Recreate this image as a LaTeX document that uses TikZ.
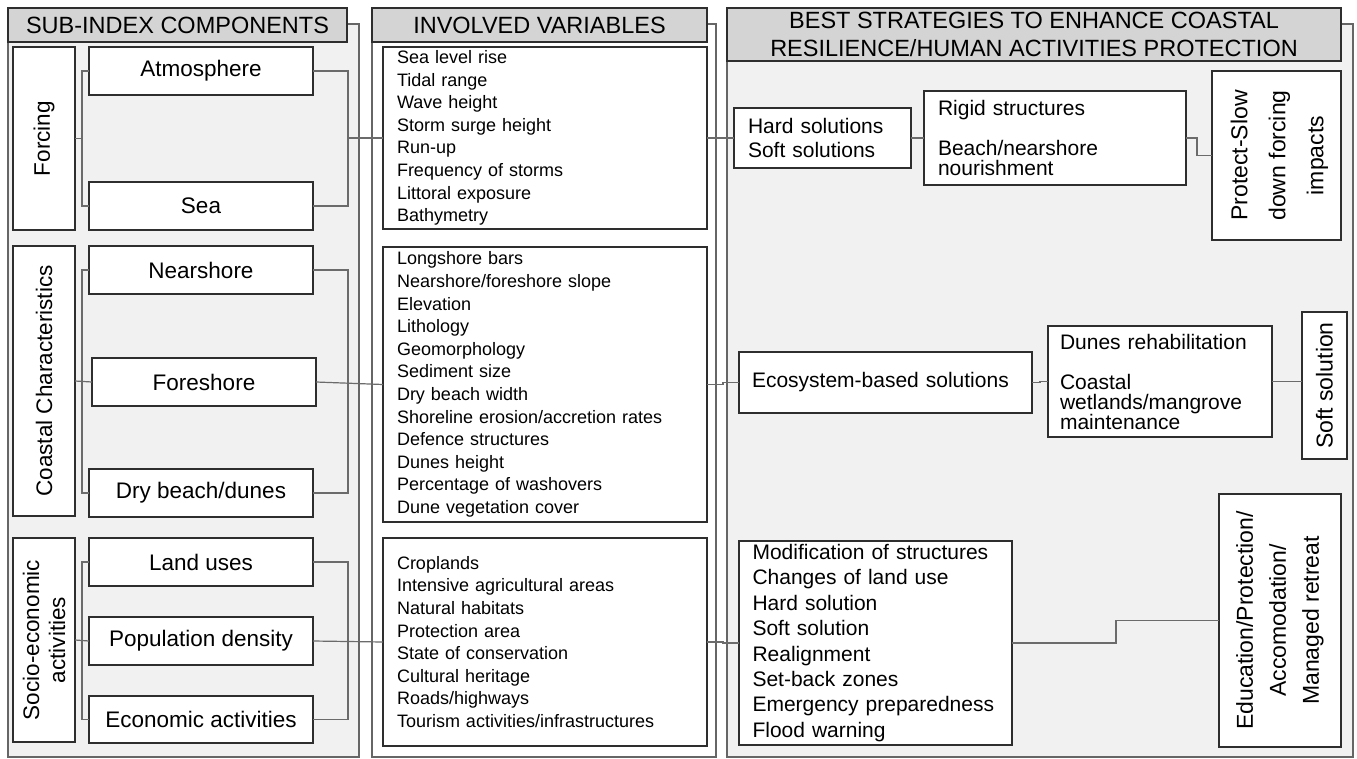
\documentclass[tikz,border=0pt]{standalone}
\usepackage{fontspec}
\setmainfont{Liberation Sans}
\definecolor{hdr}{HTML}{D4D4D4}
\definecolor{pnl}{HTML}{F1F1F1}
\definecolor{edge}{HTML}{2E2E2E}
\definecolor{cn}{HTML}{6B6B6B}
\definecolor{pedge}{HTML}{666666}
\newcommand\fHdr{\fontsize{23.5}{28}\selectfont}
\newcommand\fLeft{\fontsize{22.5}{26}\selectfont}
\newcommand\fVar{\fontsize{18}{22.6}\selectfont}
\newcommand\fStr{\fontsize{21}{24.5}\selectfont}
\newcommand\fTight{\fontsize{21}{20}\selectfont}
\newcommand\fMod{\fontsize{21}{25.4}\selectfont}
\newcommand\fRot{\fontsize{23}{33}\selectfont}
\newcommand\fRotW{\fontsize{23}{38}\selectfont}
\newcommand\bx[7]{\node[bbox,#7,anchor=north west,minimum width={(#4)-(#2)},minimum height={(#5)-(#3)}] (#1) at (#2,#3) {#6};}
\tikzset{
  bbox/.style={draw=edge, fill=white, line width=1.2pt, inner sep=0pt, outer sep=0pt},
  panelbox/.style={draw=pedge, line width=1.1pt},
  hdrbox/.style={draw=edge, fill=hdr, line width=1.3pt, align=center, font=\fHdr},
  conn/.style={draw=cn, line width=1.2pt},
  vlist/.style={font=\fVar, align=left, text width=296pt, inner xsep=14pt},
  slist/.style={align=left, inner xsep=14pt},
  rot/.style={rotate=90, align=center, font=\fRot, inner sep=0pt},
}
\begin{document}
\begin{tikzpicture}[x=1pt,y=-1pt]
\useasboundingbox (0,0) rectangle (1357,758);
% panels
\bx{p1}{8}{24}{359}{757}{}{panelbox,fill=pnl}
\bx{p2}{372}{24}{716}{757}{}{panelbox,fill=white}
\bx{p3}{727}{24}{1353}{757}{}{panelbox,fill=pnl}
% headers
\bx{h1}{8}{8}{347}{42}{SUB-INDEX COMPONENTS}{hdrbox}
\bx{h2}{372}{8}{707}{42}{INVOLVED VARIABLES}{hdrbox}
\bx{h3}{727}{8}{1341}{61}{BEST STRATEGIES TO ENHANCE COASTAL\\RESILIENCE/HUMAN ACTIVITIES PROTECTION}{hdrbox}
% sub-index components
\bx{forcing}{13}{47}{75}{230}{}{}
\node[rot,font=\fLeft] (forcingT) at (forcing.center) {Forcing};
\bx{atm}{89}{47}{313}{95}{Atmosphere}{font=\fLeft}
\bx{sea}{89}{182}{313}{230}{Sea}{font=\fLeft}
\bx{coastal}{13}{246}{75}{516}{}{}
\node[rot,font=\fLeft] (coastalT) at (coastal.center) {Coastal Characteristics};
\bx{near}{89}{246}{313}{294}{Nearshore}{font=\fLeft}
\bx{fore}{92}{358}{316}{406}{Foreshore}{font=\fLeft}
\bx{dry}{89}{469}{313}{517}{Dry beach/dunes}{font=\fLeft}
\bx{socio}{13}{538}{75}{742}{}{}
\node[rot,font=\fLeft] (socioT) at (socio.center) {Socio-economic\\activities};
\bx{land}{89}{538}{313}{586}{Land uses}{font=\fLeft}
\bx{pop}{89}{617}{313}{665}{Population density}{font=\fLeft}
\bx{econ}{89}{696}{313}{743}{Economic activities}{font=\fLeft}
% involved variables
\bx{var1}{383}{47}{707}{229}{Sea level rise\\Tidal range\\Wave height\\Storm surge height\\Run-up\\Frequency of storms\\Littoral exposure\\Bathymetry}{vlist}
\bx{var2}{383}{247}{707}{522}{Longshore bars\\Nearshore/foreshore slope\\Elevation\\Lithology\\Geomorphology\\Sediment size\\Dry beach width\\Shoreline erosion/accretion rates\\Defence structures\\Dunes height\\Percentage of washovers\\Dune vegetation cover}{vlist}
\bx{var3}{383}{538}{707}{746}{Croplands\\Intensive agricultural areas\\Natural habitats\\Protection area\\State of conservation\\Cultural heritage\\Roads/highways\\Tourism activities/infrastructures}{vlist}
% strategies
\bx{hard}{734}{108}{911}{168}{Hard solutions\\Soft solutions}{slist,font=\fStr,text width=149pt,inner xsep=14pt}
\bx{rigid}{924}{91}{1186}{185}{Rigid structures\\[20pt]Beach/nearshore\\nourishment}{slist,font=\fTight,text width=234pt}
\bx{protect}{1212}{71}{1341}{240}{}{}
\node[rot,font=\fRotW] (protectT) at ([xshift=3pt]protect.center) {Protect-Slow\\down forcing\\impacts};
\bx{eco}{739}{352}{1032}{413}{Ecosystem-based solutions}{slist,font=\fStr,text width=267pt,inner xsep=13pt}
\bx{dunes}{1048}{326}{1272}{437}{Dunes rehabilitation\\[20pt]Coastal\\wetlands/mangrove\\maintenance}{slist,font=\fTight,text width=200pt,inner xsep=12pt}
\bx{soft}{1302}{312}{1347}{459}{}{}
\node[rot] (softT) at (soft.center) {Soft solution};
\bx{mod}{739}{541}{1012}{745}{Modification of structures\\Changes of land use\\Hard solution\\Soft solution\\Realignment\\Set-back zones\\Emergency preparedness\\Flood warning}{slist,font=\fMod,text width=246pt,inner xsep=13.5pt}
\bx{edu}{1219}{494}{1341}{747}{}{}
\node[rot] (eduT) at (edu.center) {Education/Protection/\\Accomodation/\\Managed retreat};
% connectors: sub-index
\draw[conn] (atm.west) -- ++(-7,0) |- (sea.west);
\draw[conn] (forcing.east) -- ++(7,0);
\draw[conn] (atm.east) -- ++(35,0) |- (sea.east);
\draw[conn] (var1.west) -- ++(-35,0);
\draw[conn] (near.west) -- ++(-7,0) |- (dry.west);
\draw[conn] (coastal.east) -- (fore.west);
\draw[conn] (near.east) -- ++(35,0) |- (dry.east);
\draw[conn] (fore.east) -- (var2.west);
\draw[conn] (land.west) -- ++(-7,0) |- (econ.west);
\draw[conn] (socio.east) -- (pop.west);
\draw[conn] (land.east) -- ++(35,0) |- (econ.east);
\draw[conn] (pop.east) -- (var3.west);
% connectors: strategies
\draw[conn] (var1.east) -- (hard.west);
\draw[conn] (hard.east) -- (rigid.west);
\draw[conn] (rigid.east) -- ++(11,0) |- (protect.west);
\draw[conn] (var2.east) -- ++(16,0) |- (eco.west);
\draw[conn] (eco.east) -- ++(8,0) |- (dunes.west);
\draw[conn] (dunes.east) -- (dunes.east -| soft.west);
\draw[conn] (var3.east) -- ++(16,0) |- (mod.west);
\draw[conn] (mod.east) -- ++(104,0) |- (edu.west);
\end{tikzpicture}
\end{document}
